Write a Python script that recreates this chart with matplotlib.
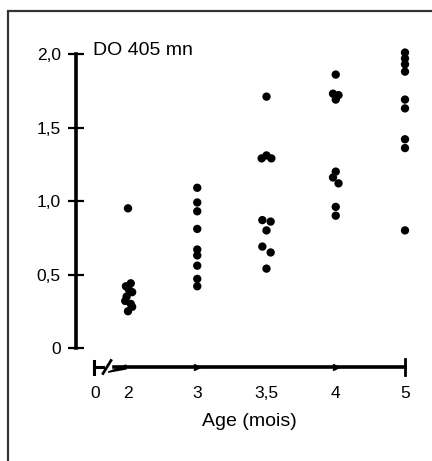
import matplotlib

matplotlib.use("Agg")
import matplotlib.pyplot as plt
from matplotlib.patches import Polygon, Rectangle

# ages (months) shown as categories on the x axis
ages = ["2", "3", "3,5", "4", "5"]

# optical density at 405 nm, one list per age group
od_2 = [0.95, 0.44, 0.42, 0.40, 0.38, 0.35, 0.32, 0.30, 0.28, 0.25]
od_3 = [1.09, 0.99, 0.93, 0.81, 0.67, 0.63, 0.56, 0.47, 0.42]
od_35 = [1.71, 1.31, 1.29, 1.29, 0.87, 0.86, 0.80, 0.69, 0.65, 0.54]
od_4 = [1.86, 1.73, 1.72, 1.69, 1.20, 1.16, 1.12, 0.96, 0.90]
od_5 = [2.01, 1.97, 1.93, 1.88, 1.69, 1.63, 1.42, 1.36, 0.80]
groups = [od_2, od_3, od_35, od_4, od_5]

# small sideways spread of overlapping dots (category units)
spread_2 = [0.0, 0.04, -0.03, 0.01, 0.06, -0.02, -0.04, 0.04, 0.06, 0.0]
spread_35 = [0.0, 0.0, -0.07, 0.07, -0.06, 0.06, 0.0, -0.06, 0.06, 0.0]
spread_4 = [0.0, -0.04, 0.04, 0.0, 0.0, -0.04, 0.04, 0.0, 0.0]
spreads = [spread_2, None, spread_35, spread_4, None]

y_ticks = [0, 0.5, 1.0, 1.5, 2.0]
y_tick_labels = ["0", "0,5", "1,0", "1,5", "2,0"]

W, H = 432, 461
FONT = ["Liberation Sans", "DejaVu Sans"]
plt.rcParams["font.family"] = FONT

# pixel anchors of the plot in the picture
X0_PX, DX_PX = 128.0, 69.25      # first category, spacing
Y0_PX, DY_PX = 348.0, 147.0      # value 0, pixels per unit
XAXIS_Y = (Y0_PX - 367.0) / DY_PX


def px_x(p):
    return (p - X0_PX) / DX_PX


def px_y(p):
    return (Y0_PX - p) / DY_PX


fig = plt.figure(figsize=(W / 100, H / 100), dpi=100)
left_px, right_px, top_px, bot_px = 76, 420, 30, 400
ax = fig.add_axes([left_px / W, 1 - bot_px / H, (right_px - left_px) / W, (bot_px - top_px) / H])
ax.set_xlim(px_x(left_px), px_x(right_px))
ax.set_ylim(px_y(bot_px), px_y(top_px))
ax.patch.set_alpha(0)

for i, vals in enumerate(groups):
    sp = spreads[i] if spreads[i] is not None else [0.0] * len(vals)
    xs = [i + s for s in sp]
    ax.scatter(xs, vals, s=36, color="black", edgecolors="none", zorder=3)

# y axis
for side in ("top", "right"):
    ax.spines[side].set_visible(False)
ax.spines["left"].set_bounds(0, 2)
ax.spines["left"].set_linewidth(2.6)
ax.set_yticks(y_ticks)
ax.set_yticklabels(y_tick_labels)
ax.tick_params(axis="y", direction="inout", length=12, width=1.6, pad=5, labelsize=12.5)

# x axis
ax.spines["bottom"].set_position(("data", XAXIS_Y))
ax.spines["bottom"].set_bounds(px_x(114), len(ages) - 1)
ax.spines["bottom"].set_linewidth(2.6)
ax.set_xticks([px_x(95)] + list(range(len(ages))))
ax.set_xticklabels(["0"] + ages)
ax.tick_params(axis="x", length=0, pad=14, labelsize=12.5)

# axis break "H/" and wedge at start of x axis
hb = 6.5 / DY_PX
ax.plot([px_x(94), px_x(94)], [XAXIS_Y - hb, XAXIS_Y + hb], color="black", lw=2.2, clip_on=False)
ax.plot([px_x(94), px_x(103)], [XAXIS_Y, XAXIS_Y], color="black", lw=2.2, clip_on=False)
ax.plot([px_x(103), px_x(111)], [XAXIS_Y - hb, XAXIS_Y + hb], color="black", lw=2.0, clip_on=False)
ax.add_patch(Polygon([(px_x(108), XAXIS_Y - 0.8 * hb), (px_x(126), XAXIS_Y + 0.3 * hb),
                      (px_x(126), XAXIS_Y - 0.3 * hb)], closed=True, color="black", clip_on=False))
# end bar at 5
ax.plot([len(ages) - 1] * 2, [XAXIS_Y - 1.2 * hb, XAXIS_Y + 1.2 * hb], color="black", lw=2.0, clip_on=False)
# small arrow marks along the axis
ax.plot([1, 3], [XAXIS_Y, XAXIS_Y], linestyle="none", marker=">", markersize=4,
        color="black", clip_on=False)

ax.text(px_x(93), px_y(50), "DO 405 mn", ha="left", va="center", fontsize=14)
fig.text(249 / W, 1 - 421 / H, "Age (mois)", ha="center", va="center", fontsize=14)

# outer frame
fig.patches.append(Rectangle((8 / W, 1 - 470 / H), 440 / W, (470 - 11) / H, transform=fig.transFigure,
                             fill=False, edgecolor="#333333", linewidth=1.6))

fig.savefig("out.png", dpi=100)
